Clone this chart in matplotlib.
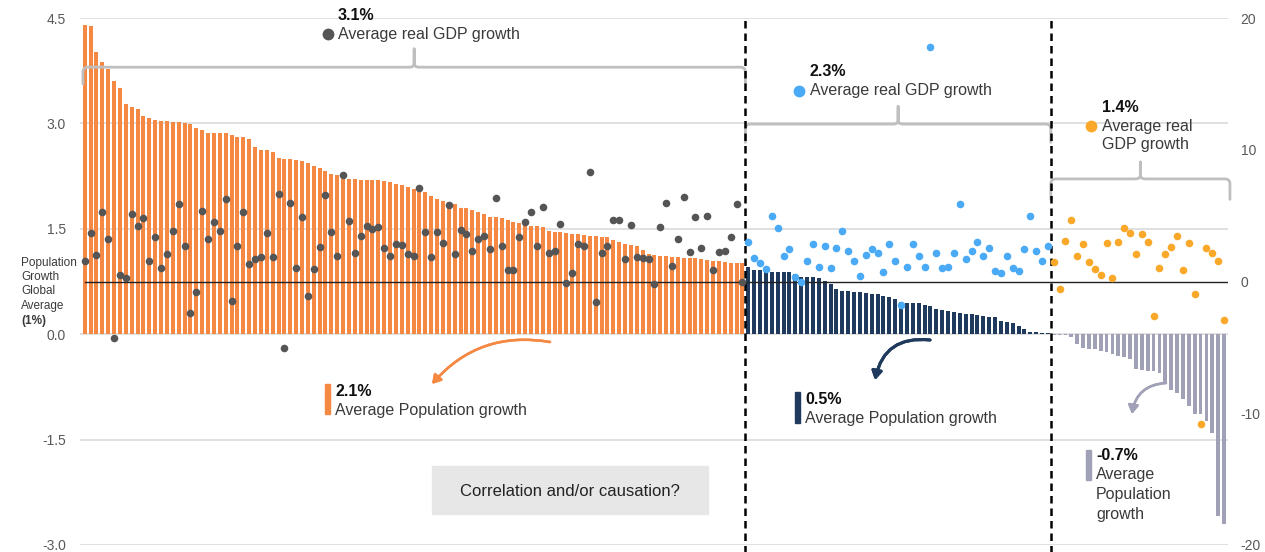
import numpy as np
import matplotlib.pyplot as plt
from matplotlib.path import Path
from matplotlib.patches import PathPatch, Rectangle
from matplotlib.lines import Line2D

plt.rcParams['font.family'] = ['Liberation Sans', 'DejaVu Sans']
plt.rcParams['axes.unicode_minus'] = False

# population growth (%), left axis - sorted, three groups
pop_high = [4.40, 4.39, 4.02, 3.88, 3.78, 3.60, 3.51, 3.28, 3.24, 3.21, 3.10, 3.08, 3.05, 3.03,
            3.03, 3.02, 3.02, 3.00, 2.99, 2.94, 2.90, 2.87, 2.87, 2.86, 2.86, 2.84, 2.80, 2.80,
            2.78, 2.66, 2.62, 2.62, 2.60, 2.51,
            2.49, 2.49, 2.48, 2.47, 2.44, 2.39, 2.36, 2.32, 2.28, 2.26, 2.21, 2.21, 2.21, 2.20,
            2.19, 2.19, 2.19, 2.18, 2.16, 2.14, 2.13, 2.10, 2.06, 2.05, 2.03, 1.96, 1.92, 1.90,
            1.88, 1.85, 1.80, 1.80, 1.77,
            1.74, 1.71, 1.67, 1.67, 1.66, 1.62, 1.59, 1.58, 1.55, 1.54, 1.54, 1.53, 1.47, 1.46,
            1.46, 1.44, 1.43, 1.43, 1.41, 1.40, 1.40, 1.39, 1.39, 1.34, 1.31, 1.29, 1.27, 1.26,
            1.20, 1.14, 1.13, 1.12, 1.11,
            1.10, 1.10, 1.09, 1.08, 1.08, 1.07, 1.06, 1.04, 1.04, 1.03, 1.02, 1.02, 1.01]
pop_mid = [0.95, 0.92, 0.92, 0.91, 0.89, 0.89, 0.89, 0.89, 0.86, 0.82, 0.81, 0.81, 0.80, 0.76,
           0.71, 0.64, 0.61, 0.61, 0.60, 0.60, 0.58, 0.57, 0.57, 0.55, 0.53, 0.50, 0.46, 0.45,
           0.45, 0.44, 0.42, 0.40, 0.36, 0.34, 0.33, 0.31, 0.30, 0.29, 0.29, 0.28, 0.26, 0.25,
           0.25, 0.19, 0.17, 0.16, 0.12, 0.08, 0.03, 0.03, 0.01, 0.01]
pop_low = [-0.01, -0.01, -0.01, -0.04, -0.14, -0.20, -0.21, -0.21, -0.24, -0.26, -0.28, -0.31,
           -0.33, -0.35, -0.50, -0.51, -0.52, -0.52, -0.55, -0.69, -0.79, -0.83, -0.92, -1.02,
           -1.14, -1.14, -1.23, -1.40, -2.59, -2.70]

# real GDP growth (%), right axis
gdp_high = [1.59, 3.67, 2.02, 5.26, 3.19, -4.27, 0.51, 0.28, 5.13, 4.25, 4.81, 1.59, 3.34, 1.04,
            2.12, 3.82, 5.89, 2.73, -2.38, -0.78, 5.34, 3.19, 4.50, 3.82, 6.27, -1.49, 2.66, 5.26,
            1.34, 1.72, 1.87, 3.67, 1.87, 6.65, -5.08,
            5.94, 1.04, 4.88, -1.11, 0.96, 2.63, 6.58, 3.79, 1.95, 8.07, 4.58, 2.20, 3.47, 4.25,
            4.02, 4.17, 2.55, 1.95, 2.88, 2.78, 2.10, 1.95, 7.11, 3.72, 1.87, 3.79, 2.96, 5.79,
            2.05, 3.89, 3.64, 2.28,
            3.19, 3.49, 2.48, 6.32, 2.73, 0.89, 0.89, 3.41, 4.50, 5.31, 2.73, 5.64, 2.17, 2.28,
            4.35, -0.10, 0.66, 2.81, 2.73, 8.32, -1.57, 2.20, 2.73, 4.63, 4.70, 1.67, 4.27, 1.87,
            1.82, 1.67, -0.18, 4.12, 5.94,
            1.16, 3.26, 6.40, 2.25, 4.88, 2.58, 4.96, 0.89, 2.25, 2.35, 3.41, 5.87, -0.05]
gdp_mid = [2.98, 1.82, 1.42, 0.96, 4.96, 4.05, 1.97, 2.50, 0.35, -0.03, 1.52, 2.88, 1.11, 2.73,
           1.06, 2.58, 3.87, 2.35, 1.57, 0.43, 2.02, 2.43, 2.20, 0.73, 2.88, 1.59, -1.77, 1.11,
           2.88, 1.95, 1.11, 17.83, 2.20, 1.04, 1.11, 2.20, 5.87, 1.72, 2.35, 2.98, 1.95, 2.55,
           0.83, 0.66, 1.97, 1.04, 0.83, 2.50, 4.96, 2.35, 1.59, 2.66]
gdp_low = [1.47, -0.56, 3.11, 4.65, 1.97, 2.81, 1.49, 0.96, 0.53, 2.91, 0.28, 3.03, 4.07, 3.67,
           2.05, 3.57, 3.03, -2.63, 1.04, 2.12, 2.61, 3.49, 0.89, 2.96, -0.94, -10.85, 2.58,
           2.17, 1.52, -2.91]

orange = '#F58842'
navy = '#1F3A5C'
lav = '#A0A1B6'
dark = '#555555'
blue = '#4AAAF5'
amber = '#F9A82A'
brace_c = '#BFBFBF'
txt = '#3A3A3A'

W, H = 1265, 552
fig = plt.figure(figsize=(W / 100, H / 100), dpi=100)
ax = fig.add_axes([80 / W, 7 / H, 1148 / W, 527 / H])
ax2 = ax.twinx()

n1, n2, n3 = len(pop_high), len(pop_mid), len(pop_low)
x1 = np.arange(n1)
x2 = np.arange(n1, n1 + n2)
x3 = np.arange(n1 + n2, n1 + n2 + n3)

ax.bar(x1, pop_high, width=0.68, color=orange, zorder=2)
ax.bar(x2, pop_mid, width=0.68, color=navy, zorder=2)
ax.bar(x3, pop_low, width=0.64, color=lav, zorder=2)

ax2.scatter(x1, gdp_high, s=30, color=dark, linewidths=0, zorder=3)
ax2.scatter(x2, gdp_mid, s=30, color=blue, linewidths=0, zorder=3)
ax2.scatter(x3, gdp_low, s=30, color=amber, linewidths=0, zorder=3)
ax2.axhline(0, xmin=0.004, color='#222222', lw=1.0, zorder=2.5)

ax.set_xlim(-0.8, 194.67)
ax.set_ylim(-3, 4.5)
ax2.set_ylim(-20, 20)
ax.set_yticks([-3, -1.5, 0, 1.5, 3, 4.5])
ax.set_yticklabels(['%.1f' % v for v in [-3, -1.5, 0, 1.5, 3, 4.5]])
ax2.set_yticks([-20, -10, 0, 10, 20])
ax.set_xticks([])
for a in (ax, ax2):
    for s in a.spines.values():
        s.set_visible(False)
    a.tick_params(axis='y', length=0, pad=10, labelsize=10, labelcolor='#595959')
ax2.tick_params(axis='y', pad=9)
ax.set_axisbelow(True)
ax.grid(axis='y', color='#DDDDDD', lw=1.3)

# group separators
for xv in (n1 - 0.5, n1 + n2 - 0.5):
    ax.axvline(xv, ymin=-0.015, ymax=1.0, color='black', lw=1.8, ls=(0, (3, 2)),
               clip_on=False, zorder=6)


def brace(x0, x1, y, drop, peak):
    rx, ry = 0.9, 0.07
    nx, ny = 0.8, 0.06
    xc = (x0 + x1) / 2
    verts = [(x0, y - drop), (x0, y - ry), (x0, y), (x0 + rx, y),
             (xc - nx, y), (xc, y), (xc, y + ny), (xc, y + peak),
             (xc, y + ny), (xc, y), (xc + nx, y),
             (x1 - rx, y), (x1, y), (x1, y - ry), (x1, y - drop)]
    codes = [Path.MOVETO, Path.LINETO, Path.CURVE3, Path.CURVE3,
             Path.LINETO, Path.CURVE3, Path.CURVE3, Path.LINETO,
             Path.LINETO, Path.CURVE3, Path.CURVE3,
             Path.LINETO, Path.CURVE3, Path.CURVE3, Path.LINETO]
    ax.add_patch(PathPatch(Path(verts, codes), fill=False, ec=brace_c, lw=2.0,
                           clip_on=False, zorder=5, capstyle='round', joinstyle='round'))


brace(-0.3, n1 - 0.5, 3.80, 0.24, 0.26)
brace(n1 - 0.5, n1 + n2 - 0.5, 2.99, 0.26, 0.25)
brace(n1 + n2 - 0.5, 195.0, 2.21, 0.29, 0.24)


def P(px, py):
    return px / W, 1 - py / H


def dot(px, py, c):
    fig.add_artist(Line2D([px / W], [1 - py / H], marker='o', ms=8.5, color=c, mew=0,
                          transform=fig.transFigure))


def tick_bar(px, py0, py1, c):
    fig.add_artist(Rectangle(P(px, py1), 5 / W, (py1 - py0) / H, color=c,
                             transform=fig.transFigure))


fs = 11.5
# GDP labels
fig.text(*P(338, 16), '3.1%', fontsize=fs, fontweight='bold', va='center', color='#111111')
dot(328, 34, dark)
fig.text(*P(338, 34), 'Average real GDP growth', fontsize=fs, va='center', color=txt)
fig.text(*P(810, 72), '2.3%', fontsize=fs, fontweight='bold', va='center', color='#111111')
dot(799, 91, blue)
fig.text(*P(810, 91), 'Average real GDP growth', fontsize=fs, va='center', color=txt)
fig.text(*P(1102, 108), '1.4%', fontsize=fs, fontweight='bold', va='center', color='#111111')
dot(1091, 126, amber)
fig.text(*P(1102, 126), 'Average real', fontsize=fs, va='center', color=txt)
fig.text(*P(1102, 145), 'GDP growth', fontsize=fs, va='center', color=txt)

# population labels
tick_bar(325, 384, 414, orange)
fig.text(*P(335, 391), '2.1%', fontsize=fs, fontweight='bold', va='center', color='#111111')
fig.text(*P(335, 410), 'Average Population growth', fontsize=fs, va='center', color=txt)
tick_bar(795, 392, 423, navy)
fig.text(*P(805, 399), '0.5%', fontsize=fs, fontweight='bold', va='center', color='#111111')
fig.text(*P(805, 418), 'Average Population growth', fontsize=fs, va='center', color=txt)
tick_bar(1086, 450, 480, lav)
fig.text(*P(1096, 456), '-0.7%', fontsize=fs, fontweight='bold', va='center', color='#111111')
fig.text(*P(1096, 475), 'Average', fontsize=fs, va='center', color=txt)
fig.text(*P(1096, 495), 'Population', fontsize=fs, va='center', color=txt)
fig.text(*P(1096, 514), 'growth', fontsize=fs, va='center', color=txt)

# global average label
fig.text(*P(21, 257), 'Population\nGrowth\nGlobal\nAverage', fontsize=8.5, va='top',
         color=txt, linespacing=1.25)
fig.text(*P(21, 321), '(1%)', fontsize=8.5, va='center', fontweight='bold', color=txt)

# question box
fig.add_artist(Rectangle(P(432, 514), 276 / W, 48 / H, color='#E7E7E7',
                         transform=fig.transFigure))
fig.text(*P(570, 491), 'Correlation and/or causation?', fontsize=12, ha='center',
         va='center', color='#222222')

# arrows
for start, end, c, lw, rad in [((550, 342), (432, 384), orange, 1.8, 0.28),
                               ((930, 340), (875, 380), navy, 2.2, 0.45),
                               ((1166, 383), (1132, 414), lav, 1.8, 0.4)]:
    fig.add_artist(plt.annotate('', xy=P(*end), xytext=P(*start), xycoords='figure fraction',
                                textcoords='figure fraction',
                                arrowprops=dict(arrowstyle='-|>,head_length=0.5,head_width=0.3',
                                                connectionstyle='arc3,rad=%.2f' % rad,
                                                color=c, lw=lw, shrinkA=0, shrinkB=0)))

fig.savefig('out.png', dpi=100)
